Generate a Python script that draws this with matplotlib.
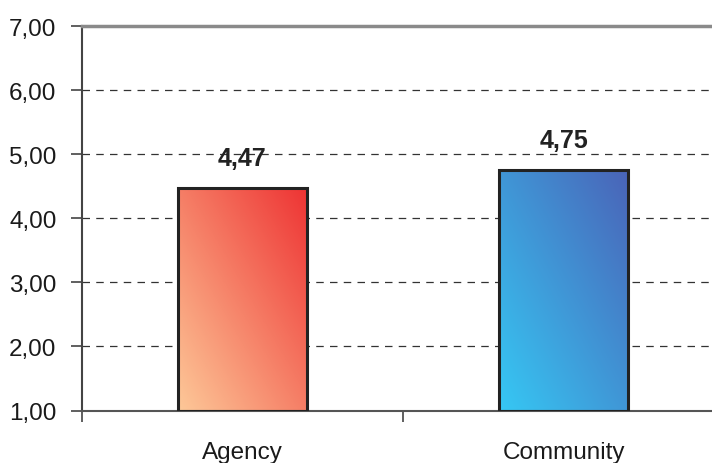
import numpy as np
import matplotlib.pyplot as plt
from matplotlib.colors import LinearSegmentedColormap

# Data
categories = ["Agency", "Community"]
scores = [4.47, 4.75]
# gradient colours: (bottom-left, top-right)
gradients = [("#fdc898", "#ee3434"), ("#36c8f4", "#4a64b8")]

plt.rcParams['font.family'] = ['Liberation Sans', 'DejaVu Sans']

fig = plt.figure(figsize=(7.12, 4.64), dpi=100)
# axes runs a bit past the right edge, like the original export
ax = fig.add_axes([81.5 / 712, (464 - 411.5) / 464, 643 / 712, 384.5 / 464])

x = np.arange(len(categories))
width = 0.4

for xi, val, (c0, c1) in zip(x, scores, gradients):
    cmap = LinearSegmentedColormap.from_list("g", [c0, c1])
    # diagonal gradient from bottom-left to top-right
    gx, gy = np.meshgrid(np.linspace(0, 1, 100), np.linspace(0, 1, 100))
    grad = (gx + gy) / 2
    left, bottom = xi - width / 2, 1
    im = ax.imshow(grad, cmap=cmap, origin="lower", aspect="auto",
                   extent=[left, left + width, bottom, val], zorder=2)
    rect = plt.Rectangle((left, bottom), width, val - bottom, facecolor="none",
                         edgecolor="#222222", linewidth=2.2, zorder=3)
    ax.add_patch(rect)
    im.set_clip_path(rect)
    ax.text(xi, val + 0.28, f"{val:.2f}".replace(".", ","), ha="center",
            va="bottom", fontsize=18, fontweight="bold", color="#222222")

ax.set_xlim(-0.5, len(categories) - 0.5)
ax.set_ylim(1, 7)

# grid
ax.set_yticks(range(1, 8))
ax.set_yticklabels([f"{v},00" for v in range(1, 8)], fontsize=17.5, color="#1a1a1a")
for v in range(2, 7):
    ax.axhline(v, color="#333333", linestyle=(0, (6, 5)), linewidth=0.9, zorder=1)

ax.set_xticks(x)
ax.set_xticklabels(categories, fontsize=17.5, color="#1a1a1a")
ax.tick_params(axis="x", length=0, pad=22)
ax.set_xticks([-0.5, 0.5, 1.5], minor=True)
ax.tick_params(axis="x", which="minor", length=8, width=1.2, color="#444444")
ax.tick_params(axis="y", length=8, width=1.2, color="#444444", pad=10)

ax.spines["right"].set_visible(False)
ax.spines["top"].set_color("#8a8a8a")
ax.spines["top"].set_linewidth(2.5)
ax.spines["left"].set_color("#444444")
ax.spines["left"].set_linewidth(1.5)
ax.spines["bottom"].set_color("#555555")
ax.spines["bottom"].set_linewidth(1.5)

plt.savefig("out.png", dpi=100)
